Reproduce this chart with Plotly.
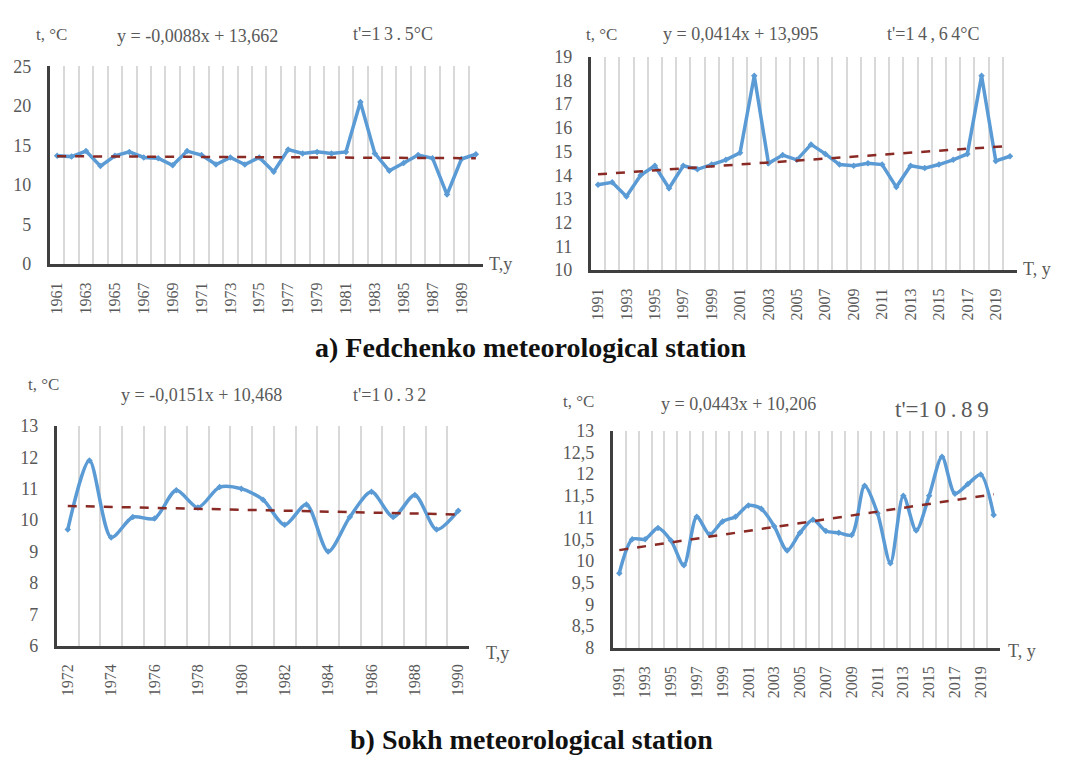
import plotly.graph_objects as go

W, H = 1065, 763

# ---------------- data ----------------
# a) Fedchenko, 1961-1990
years_a1 = [1961, 1962, 1963, 1964, 1965, 1966, 1967, 1968, 1969, 1970,
            1971, 1972, 1973, 1974, 1975, 1976, 1977, 1978, 1979, 1980,
            1981, 1982, 1983, 1984, 1985, 1986, 1987, 1988, 1989, 1990]
temp_a1 = [13.7, 13.6, 14.3, 12.4, 13.7, 14.2, 13.5, 13.4, 12.5, 14.3,
           13.8, 12.6, 13.5, 12.6, 13.5, 11.7, 14.5, 14.0, 14.2, 14.0,
           14.2, 20.5, 14.0, 11.8, 12.8, 13.8, 13.4, 8.8, 13.3, 13.9]
trend_a1 = [13.65, 13.40]
yticks_a1 = [0, 5, 10, 15, 20, 25]
xlabels_a1 = [1961, 1963, 1965, 1967, 1969, 1971, 1973, 1975, 1977, 1979,
              1981, 1983, 1985, 1987, 1989]

# a) Fedchenko, 1991-2020
years_a2 = [1991, 1992, 1993, 1994, 1995, 1996, 1997, 1998, 1999, 2000,
            2001, 2002, 2003, 2004, 2005, 2006, 2007, 2008, 2009, 2010,
            2011, 2012, 2013, 2014, 2015, 2016, 2017, 2018, 2019, 2020]
temp_a2 = [13.6, 13.7, 13.1, 14.0, 14.4, 13.45, 14.4, 14.25, 14.45, 14.65,
           14.95, 18.2, 14.5, 14.85, 14.65, 15.3, 14.9, 14.45, 14.4, 14.5,
           14.45, 13.5, 14.4, 14.3, 14.45, 14.65, 14.9, 18.2, 14.6, 14.8]
trend_a2 = [14.04, 15.24]
yticks_a2 = [10, 11, 12, 13, 14, 15, 16, 17, 18, 19]
xlabels_a2 = [1991, 1993, 1995, 1997, 1999, 2001, 2003, 2005, 2007, 2009,
              2011, 2013, 2015, 2017, 2019]

# b) Sokh, 1972-1990
years_b1 = [1972, 1973, 1974, 1975, 1976, 1977, 1978, 1979, 1980, 1981,
            1982, 1983, 1984, 1985, 1986, 1987, 1988, 1989, 1990]
temp_b1 = [9.7, 11.9, 9.45, 10.1, 10.05, 10.95, 10.4, 11.05, 11.0, 10.65,
           9.85, 10.5, 9.0, 10.1, 10.9, 10.1, 10.8, 9.7, 10.3]
trend_b1 = [10.45, 10.18]
yticks_b1 = [6, 7, 8, 9, 10, 11, 12, 13]
xlabels_b1 = [1972, 1974, 1976, 1978, 1980, 1982, 1984, 1986, 1988, 1990]

# b) Sokh, 1991-2020
years_b2 = [1991, 1992, 1993, 1994, 1995, 1996, 1997, 1998, 1999, 2000,
            2001, 2002, 2003, 2004, 2005, 2006, 2007, 2008, 2009, 2010,
            2011, 2012, 2013, 2014, 2015, 2016, 2017, 2018, 2019, 2020]
temp_b2 = [9.72, 10.5, 10.5, 10.76, 10.47, 9.9, 11.02, 10.61, 10.91, 11.02,
           11.28, 11.2, 10.8, 10.24, 10.65, 10.95, 10.69, 10.65, 10.6, 11.73,
           11.1, 9.95, 11.5, 10.7, 11.5, 12.4, 11.55, 11.77, 11.99, 11.06]
trend_b2 = [10.25, 11.535]
yticks_b2 = [8, 8.5, 9, 9.5, 10, 10.5, 11, 11.5, 12, 12.5, 13]
yticktext_b2 = ["8", "8,5", "9", "9,5", "10", "10,5", "11", "11,5", "12", "12,5", "13"]
xlabels_b2 = [1991, 1993, 1995, 1997, 1999, 2001, 2003, 2005, 2007, 2009,
              2011, 2013, 2015, 2017, 2019]

equations = ["y = -0,0088x + 13,662", "y = 0,0414x + 13,995",
             "y = -0,0151x + 10,468", "y = 0,0443x + 10,206"]
means = ["t'=1\u20093\u2009.\u20095\u00b0C", "t'=1\u20094\u2009,\u20096\u20094\u00b0C",
         "t'=1\u20090\u2009.\u20093\u20092", "t'=1\u20090\u2009.\u20098\u20099"]
captions = ["a) Fedchenko meteorological station", "b) Sokh meteorological station"]

# ---------------- styling ----------------
BLUE = "#5b9bd5"
TREND = "#8a2a24"
GRID = "#d9d9d9"
AXIS = "#3f3f3f"
TXT = "#595959"
SERIF = "Liberation Serif"


def px(x):
    return x / W


def py(y):
    return 1 - y / H


panels = [
    # (years, temps, trend, yticks, yticktext, xlabels, xdom(px), ydom(px), spline)
    (years_a1, temp_a1, trend_a1, yticks_a1, None, xlabels_a1, (48, 482), (58, 261), False),
    (years_a2, temp_a2, trend_a2, yticks_a2, None, xlabels_a2, (590, 1017), (48, 267), False),
    (years_b1, temp_b1, trend_b1, yticks_b1, None, xlabels_b1, (55, 468), (427, 653), True),
    (years_b2, temp_b2, trend_b2, yticks_b2, yticktext_b2, xlabels_b2, (612, 1000), (432, 655), True),
]

fig = go.Figure()
layout = dict(
    width=W, height=H, margin=dict(l=0, r=0, t=0, b=0),
    paper_bgcolor="white", plot_bgcolor="white", showlegend=False,
    font=dict(family=SERIF, color=TXT),
)

for i, (yrs, tmp, trd, ytv, ytt, xl, xd, yd, spl) in enumerate(panels):
    n = i + 1
    xa = "x" if n == 1 else f"x{n}"
    ya = "y" if n == 1 else f"y{n}"
    fig.add_trace(go.Scatter(
        x=yrs, y=tmp, mode="lines+markers", xaxis=xa, yaxis=ya,
        line=dict(color=BLUE, width=3.5, shape="spline" if spl else "linear", smoothing=0.8),
        marker=dict(symbol="diamond", size=5, color=BLUE),
        hoverinfo="x+y",
    ))
    fig.add_trace(go.Scatter(
        x=[yrs[0], yrs[-1]], y=trd, mode="lines", xaxis=xa, yaxis=ya,
        line=dict(color=TREND, width=2.5, dash="dash"),
        hoverinfo="skip",
    ))
    xkey = "xaxis" if n == 1 else f"xaxis{n}"
    ykey = "yaxis" if n == 1 else f"yaxis{n}"
    layout[xkey] = dict(
        domain=[px(xd[0]), px(xd[1])], anchor=ya,
        range=[yrs[0] - 0.5, yrs[-1] + 0.5],
        tickmode="array", tickvals=xl, ticktext=[str(v) for v in xl],
        tickangle=-90, showgrid=False, zeroline=False,
        showline=True, linecolor=AXIS, linewidth=3,
        ticks="outside", ticklen=9, tickcolor="rgba(0,0,0,0)",
        tickfont=dict(family=SERIF, size=16, color=TXT),
        minor=dict(tick0=yrs[0] - 0.5, dtick=1, showgrid=True,
                   gridcolor=GRID, gridwidth=1.5, ticks=""),
        fixedrange=True,
    )
    layout[ykey] = dict(
        domain=[py(yd[1]), py(yd[0])], anchor=xa,
        range=[ytv[0], ytv[-1]],
        tickmode="array", tickvals=ytv,
        ticktext=ytt if ytt else [str(v) for v in ytv],
        showgrid=False, zeroline=False,
        showline=True, linecolor=AXIS, linewidth=3,
        ticks="outside", ticklen=12, tickcolor="rgba(0,0,0,0)",
        tickfont=dict(family=SERIF, size=18, color=TXT),
        fixedrange=True,
    )

ann = []


def add_text(x, y, text, size, anchor="left", color=TXT, bold=False):
    ann.append(dict(
        x=px(x), y=py(y), xref="paper", yref="paper", text=f"<b>{text}</b>" if bold else text,
        showarrow=False, xanchor=anchor, yanchor="middle",
        font=dict(family=SERIF, size=size, color=color),
    ))


# panel a1
add_text(32, 25, "t, °C", 17)
add_text(113, 27, equations[0], 18)
add_text(350, 25, means[0], 18)
add_text(486, 261, "T,y", 18)
# panel a2
add_text(583, 25, "t, °C", 17)
add_text(660, 25, equations[1], 18)
add_text(885, 25, means[1], 18)
add_text(1021, 266, "T, y", 18)
# panel b1
add_text(24, 385, "t, °C", 17)
add_text(117, 395, equations[2], 18)
add_text(350, 395, means[2], 18)
add_text(483, 660, "T,y", 18)
# panel b2
add_text(560, 402, "t, °C", 17)
add_text(658, 405, equations[3], 18)
add_text(893, 410, means[3], 23)
add_text(1006, 658, "T, y", 18)
# captions
add_text(530, 347, captions[0], 28, anchor="center", color="#111111", bold=True)
add_text(530, 749, captions[1], 28, anchor="center", color="#111111", bold=True)

layout["annotations"] = ann
fig.update_layout(**layout)
fig.write_html("out.html")
